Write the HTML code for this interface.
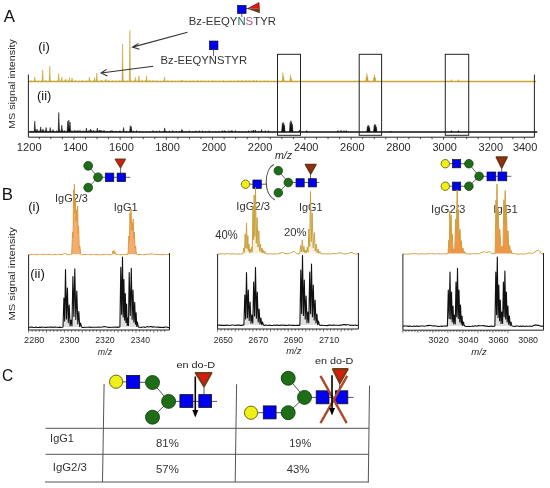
<!DOCTYPE html>
<html><head><meta charset="utf-8"><style>
html,body{margin:0;padding:0;background:#fff;}
svg{display:block;filter:blur(0.3px);font-family:"Liberation Sans",sans-serif;}
</style></head><body>
<svg width="550" height="488" viewBox="0 0 550 488">
<rect width="550" height="488" fill="#fff"/>
<g fill="#c9a032" stroke="#c9a032" stroke-width="0.5">
<path d="M34.2 81.5 L34.8 77 L35.4 81.5 M42.1 81.5 L42.7 69.8 L43.3 81.5 M49.2 81.5 L49.8 66.1 L50.4 81.5 M58.1 81.5 L58.7 73.6 L59.3 81.5 M61.2 81.5 L61.8 77 L62.4 81.5 M65.3 81.5 L65.9 79 L66.5 81.5 M68.7 81.5 L69.3 77.5 L69.9 81.5 M71.4 81.5 L72 78 L72.6 81.5 M88.8 81.5 L89.4 77 L90 81.5 M94 81.5 L94.6 77.5 L95.2 81.5 M96.2 81.5 L96.8 73 L97.4 81.5 M100.9 81.5 L101.5 80 L102.1 81.5 M105.3 81.5 L105.9 79.1 L106.5 81.5 M122 81.5 L122.6 43.9 L123.2 81.5 M129.3 81.5 L129.9 30.5 L130.5 81.5 M134.8 81.5 L135.4 77.4 L136 81.5 M138.3 81.5 L138.9 75.9 L139.5 81.5 M146 81.5 L146.6 75.9 L147.2 81.5 M163.9 81.5 L164.5 77.1 L165.1 81.5 M181.2 81.5 L181.8 80 L182.4 81.5 M253.3 81.5 L253.9 80.3 L254.5 81.5 M282.3 81.5 L282.9 72.6 L283.5 81.5 M283 81.5 L283.6 76.5 L284.2 81.5 M289.9 81.5 L290.5 75.1 L291.1 81.5 M290.6 81.5 L291.2 78 L291.8 81.5 M365.7 81.5 L366.3 77 L366.9 81.5 M366.3 81.5 L366.9 73.6 L367.5 81.5 M367 81.5 L367.6 76.5 L368.2 81.5 M373.3 81.5 L373.9 77.5 L374.5 81.5 M373.9 81.5 L374.5 74.4 L375.1 81.5 M374.6 81.5 L375.2 77.5 L375.8 81.5 M450.8 81.5 L451.4 79.6 L452 81.5 M457.8 81.5 L458.4 79.6 L459 81.5"/>
<path d="M30.4 81.5 L31 80.24 L31.6 81.5 M34.1 81.5 L34.7 80.05 L35.3 81.5 M37.8 81.5 L38.4 80.55 L39 81.5 M41.5 81.5 L42.1 80.29 L42.7 81.5 M45.2 81.5 L45.8 79.83 L46.4 81.5 M48.9 81.5 L49.5 79.82 L50.1 81.5 M52.6 81.5 L53.2 80.75 L53.8 81.5 M56.3 81.5 L56.9 80.65 L57.5 81.5 M60 81.5 L60.6 80.84 L61.2 81.5 M63.7 81.5 L64.3 80.37 L64.9 81.5 M67.4 81.5 L68 80.86 L68.6 81.5 M71.1 81.5 L71.7 80.35 L72.3 81.5 M74.8 81.5 L75.4 80.12 L76 81.5 M78.5 81.5 L79.1 80.57 L79.7 81.5 M82.2 81.5 L82.8 80.09 L83.4 81.5 M85.9 81.5 L86.5 80.19 L87.1 81.5 M89.6 81.5 L90.2 80.87 L90.8 81.5 M93.3 81.5 L93.9 80.23 L94.5 81.5 M97 81.5 L97.6 80.59 L98.2 81.5 M100.7 81.5 L101.3 80.4 L101.9 81.5 M104.4 81.5 L105 80.56 L105.6 81.5 M108.1 81.5 L108.7 80.07 L109.3 81.5 M111.8 81.5 L112.4 80.37 L113 81.5 M115.5 81.5 L116.1 80.71 L116.7 81.5 M119.2 81.5 L119.8 80.25 L120.4 81.5 M122.9 81.5 L123.5 79.96 L124.1 81.5 M126.6 81.5 L127.2 80.53 L127.8 81.5 M130.3 81.5 L130.9 80.63 L131.5 81.5 M134 81.5 L134.6 80.43 L135.2 81.5 M137.7 81.5 L138.3 79.78 L138.9 81.5 M141.4 81.5 L142 79.73 L142.6 81.5 M145.1 81.5 L145.7 80.09 L146.3 81.5 M148.8 81.5 L149.4 79.82 L150 81.5 M152.5 81.5 L153.1 79.89 L153.7 81.5 M156.2 81.5 L156.8 80.45 L157.4 81.5 M159.9 81.5 L160.5 80.79 L161.1 81.5 M163.6 81.5 L164.2 80.12 L164.8 81.5 M167.3 81.5 L167.9 80.23 L168.5 81.5 M171 81.5 L171.6 80.47 L172.2 81.5 M174.7 81.5 L175.3 80.63 L175.9 81.5 M178.4 81.5 L179 80.41 L179.6 81.5 M182.1 81.5 L182.7 80.34 L183.3 81.5 M185.8 81.5 L186.4 80.58 L187 81.5 M189.5 81.5 L190.1 80.55 L190.7 81.5 M193.2 81.5 L193.8 80.35 L194.4 81.5 M196.9 81.5 L197.5 79.87 L198.1 81.5 M200.6 81.5 L201.2 80.2 L201.8 81.5 M204.3 81.5 L204.9 80.56 L205.5 81.5 M208 81.5 L208.6 80.57 L209.2 81.5 M211.7 81.5 L212.3 80.35 L212.9 81.5 M215.4 81.5 L216 80.65 L216.6 81.5 M219.1 81.5 L219.7 80.66 L220.3 81.5 M222.8 81.5 L223.4 80.28 L224 81.5 M226.5 81.5 L227.1 80.8 L227.7 81.5 M230.2 81.5 L230.8 80.32 L231.4 81.5 M233.9 81.5 L234.5 80.47 L235.1 81.5 M237.6 81.5 L238.2 80.05 L238.8 81.5 M241.3 81.5 L241.9 80 L242.5 81.5 M245 81.5 L245.6 80.07 L246.2 81.5 M248.7 81.5 L249.3 80.07 L249.9 81.5 M252.4 81.5 L253 80.45 L253.6 81.5 M256.1 81.5 L256.7 80.1 L257.3 81.5 M259.8 81.5 L260.4 80.49 L261 81.5 M263.5 81.5 L264.1 80.21 L264.7 81.5 M267.2 81.5 L267.8 80.51 L268.4 81.5" stroke-width="0.3"/>
</g>
<line x1="28.4" y1="81.5" x2="536" y2="81.5" stroke="#c9a535" stroke-width="1.4"/>
<g fill="#111" stroke="#111" stroke-width="0.5">
<path d="M34.1 132 L34.8 121.1 L35.5 132 M36.3 132 L37 129 L37.7 132 M40 132 L40.7 126.8 L41.4 132 M42.3 132 L43 129 L43.7 132 M45.4 132 L46.1 127.5 L46.8 132 M49.5 132 L50.2 127.5 L50.9 132 M52.3 132 L53 129.5 L53.7 132 M58.1 132 L58.8 112.5 L59.5 132 M61.1 132 L61.8 125.2 L62.5 132 M67.1 132 L67.8 121 L68.5 132 M68.2 132 L68.9 120 L69.6 132 M69.3 132 L70 122 L70.7 132 M85.7 132 L86.4 128 L87.1 132 M89.8 132 L90.5 129 L91.2 132 M96.6 132 L97.3 128 L98 132 M99.3 132 L100 130 L100.7 132 M103.3 132 L104 130.5 L104.7 132 M122.9 132 L123.6 127.5 L124.3 132 M129.6 132 L130.3 125.6 L131 132 M130.5 132 L131.2 126.5 L131.9 132 M164 132 L164.7 127.9 L165.4 132 M181.1 132 L181.8 129.4 L182.5 132 M223.7 132 L224.4 130.5 L225.1 132 M230.6 132 L231.3 130.5 L232 132 M252.8 132 L253.5 130 L254.2 132 M254.8 132 L255.5 130 L256.2 132 M260.8 132 L261.5 129.5 L262.2 132 M281.6 132 L282.3 123.5 L283 132 M282.3 132 L283 122.2 L283.7 132 M283.1 132 L283.8 123.2 L284.5 132 M283.7 132 L284.4 125 L285.1 132 M289.4 132 L290.1 122.5 L290.8 132 M290.1 132 L290.8 120.7 L291.5 132 M290.9 132 L291.6 121.8 L292.3 132 M291.6 132 L292.3 124 L293 132 M298.8 132 L299.5 130 L300.2 132 M306 132 L306.7 130.5 L307.4 132 M337.3 132 L338 130.5 L338.7 132 M340.3 132 L341 130.2 L341.7 132 M343.3 132 L344 130.5 L344.7 132 M345.6 132 L346.3 130.5 L347 132 M366.7 132 L367.4 126.5 L368.1 132 M367.4 132 L368.1 125 L368.8 132 M368.2 132 L368.9 125.8 L369.6 132 M368.8 132 L369.5 127.5 L370.2 132 M373.5 132 L374.2 125.5 L374.9 132 M374.2 132 L374.9 124.2 L375.6 132 M375 132 L375.7 124.8 L376.4 132 M375.6 132 L376.3 127 L377 132 M390.3 132 L391 131 L391.7 132 M450.7 132 L451.4 130.6 L452.1 132 M457.7 132 L458.4 130.6 L459.1 132"/>
<path d="M30.4 132 L31 130.69 L31.6 132 M32 132 L32.6 131.3 L33.2 132 M33.6 132 L34.2 131.01 L34.8 132 M35.2 132 L35.8 129.85 L36.4 132 M36.8 132 L37.4 131.03 L38 132 M38.4 132 L39 130.29 L39.6 132 M40 132 L40.6 130.36 L41.2 132 M41.6 132 L42.2 130.24 L42.8 132 M43.2 132 L43.8 130.64 L44.4 132 M44.8 132 L45.4 130.45 L46 132 M46.4 132 L47 131.29 L47.6 132 M48 132 L48.6 131.28 L49.2 132 M49.6 132 L50.2 131.08 L50.8 132 M51.2 132 L51.8 131.16 L52.4 132 M52.8 132 L53.4 131.24 L54 132 M54.4 132 L55 131.19 L55.6 132 M56 132 L56.6 130.51 L57.2 132 M57.6 132 L58.2 131.1 L58.8 132 M59.2 132 L59.8 129.88 L60.4 132 M60.8 132 L61.4 130.31 L62 132 M62.4 132 L63 130.53 L63.6 132 M64 132 L64.6 130.27 L65.2 132 M65.6 132 L66.2 130.98 L66.8 132 M67.2 132 L67.8 129.92 L68.4 132 M68.8 132 L69.4 130.06 L70 132 M70.4 132 L71 130.24 L71.6 132 M72 132 L72.6 130.63 L73.2 132 M73.6 132 L74.2 130.05 L74.8 132 M75.2 132 L75.8 130.21 L76.4 132 M76.8 132 L77.4 130.34 L78 132 M78.4 132 L79 129.94 L79.6 132 M80 132 L80.6 130.39 L81.2 132 M81.6 132 L82.2 130.81 L82.8 132 M83.2 132 L83.8 130.52 L84.4 132 M84.8 132 L85.4 131.09 L86 132 M86.4 132 L87 131.09 L87.6 132 M88 132 L88.6 130.24 L89.2 132 M89.6 132 L90.2 130.14 L90.8 132 M91.2 132 L91.8 129.84 L92.4 132 M92.8 132 L93.4 130.04 L94 132 M94.4 132 L95 130.53 L95.6 132 M96 132 L96.6 131.26 L97.2 132 M97.6 132 L98.2 130.62 L98.8 132 M99.2 132 L99.8 129.92 L100.4 132 M100.8 132 L101.4 130.14 L102 132 M102.4 132 L103 130.62 L103.6 132 M104 132 L104.6 130.67 L105.2 132 M105.6 132 L106.2 131.05 L106.8 132 M107.2 132 L107.8 131.12 L108.4 132 M108.8 132 L109.4 131.28 L110 132 M110.4 132 L111 129.97 L111.6 132 M112 132 L112.6 130.38 L113.2 132 M113.6 132 L114.2 131.17 L114.8 132 M115.2 132 L115.8 130.74 L116.4 132 M116.8 132 L117.4 131.32 L118 132 M118.4 132 L119 131.07 L119.6 132 M119.4 132 L120 130.52 L120.6 132 M122.7 132 L123.3 130.62 L123.9 132 M126 132 L126.6 130.83 L127.2 132 M129.3 132 L129.9 131.07 L130.5 132 M132.6 132 L133.2 130.62 L133.8 132 M135.9 132 L136.5 130.25 L137.1 132 M139.2 132 L139.8 130.88 L140.4 132 M142.5 132 L143.1 131.32 L143.7 132 M145.8 132 L146.4 131.33 L147 132 M149.1 132 L149.7 131.3 L150.3 132 M152.4 132 L153 130.25 L153.6 132 M155.7 132 L156.3 130.75 L156.9 132 M159 132 L159.6 130.4 L160.2 132 M162.3 132 L162.9 131.2 L163.5 132 M165.6 132 L166.2 131.09 L166.8 132 M168.9 132 L169.5 130.57 L170.1 132 M172.2 132 L172.8 130.33 L173.4 132 M175.5 132 L176.1 130.99 L176.7 132 M178.8 132 L179.4 131.32 L180 132 M182.1 132 L182.7 130.36 L183.3 132 M185.4 132 L186 131.05 L186.6 132 M188.7 132 L189.3 130.51 L189.9 132 M192 132 L192.6 131.21 L193.2 132 M195.3 132 L195.9 130.57 L196.5 132 M198.6 132 L199.2 130.39 L199.8 132 M201.9 132 L202.5 130.53 L203.1 132 M205.2 132 L205.8 130.97 L206.4 132 M208.5 132 L209.1 130.53 L209.7 132 M211.8 132 L212.4 131.23 L213 132 M215.1 132 L215.7 131.02 L216.3 132 M218.4 132 L219 130.9 L219.6 132 M221.7 132 L222.3 130.35 L222.9 132 M225 132 L225.6 131.22 L226.2 132 M228.3 132 L228.9 130.34 L229.5 132 M231.6 132 L232.2 130.44 L232.8 132 M234.9 132 L235.5 130.23 L236.1 132 M238.2 132 L238.8 130.96 L239.4 132 M241.5 132 L242.1 131.15 L242.7 132 M244.8 132 L245.4 131.11 L246 132 M248.1 132 L248.7 130.41 L249.3 132 M251.4 132 L252 130.24 L252.6 132 M254.7 132 L255.3 130.56 L255.9 132 M258 132 L258.6 130.82 L259.2 132 M261.3 132 L261.9 131.06 L262.5 132 M264.6 132 L265.2 130.4 L265.8 132 M267.9 132 L268.5 130.35 L269.1 132" stroke-width="0.3"/>
</g>
<line x1="28.4" y1="132" x2="537.3" y2="132" stroke="#111" stroke-width="1.3"/>
<g stroke="#222" stroke-width="1" fill="none">
<path d="M28.4 74.6 V137.2 H534.4 V74.6"/>
<path d="M39.3 137.2 v2 M50.85 137.2 v2 M62.4 137.2 v2 M73.95 137.2 v2.6 M85.5 137.2 v2 M97.05 137.2 v2 M108.6 137.2 v2 M120.15 137.2 v2.6 M131.7 137.2 v2 M143.25 137.2 v2 M154.8 137.2 v2 M166.35 137.2 v2.6 M177.9 137.2 v2 M189.45 137.2 v2 M201 137.2 v2 M212.55 137.2 v2.6 M224.1 137.2 v2 M235.65 137.2 v2 M247.2 137.2 v2 M258.75 137.2 v2.6 M270.3 137.2 v2 M281.85 137.2 v2 M293.4 137.2 v2 M304.95 137.2 v2.6 M316.5 137.2 v2 M328.05 137.2 v2 M339.6 137.2 v2 M351.15 137.2 v2.6 M362.7 137.2 v2 M374.25 137.2 v2 M385.8 137.2 v2 M397.35 137.2 v2.6 M408.9 137.2 v2 M420.45 137.2 v2 M432 137.2 v2 M443.55 137.2 v2.6 M455.1 137.2 v2 M466.65 137.2 v2 M478.2 137.2 v2 M489.75 137.2 v2.6 M501.3 137.2 v2 M512.85 137.2 v2 M524.4 137.2 v2" stroke-width="0.8"/>
<rect x="277.5" y="54.3" width="23" height="81"/>
<rect x="359.2" y="54.3" width="22.4" height="81"/>
<rect x="445.3" y="54.3" width="23.4" height="81"/>
</g>
<text x="16.81" y="151" font-size="11.14" textLength="24.78" lengthAdjust="spacingAndGlyphs" fill="#2a2a2a">1200</text>
<text x="62.95" y="151" font-size="11.14" textLength="24.78" lengthAdjust="spacingAndGlyphs" fill="#2a2a2a">1400</text>
<text x="109.09" y="151" font-size="11.14" textLength="24.78" lengthAdjust="spacingAndGlyphs" fill="#2a2a2a">1600</text>
<text x="155.23" y="151" font-size="11.14" textLength="24.78" lengthAdjust="spacingAndGlyphs" fill="#2a2a2a">1800</text>
<text x="201.66" y="151" font-size="11.14" textLength="24.49" lengthAdjust="spacingAndGlyphs" fill="#2a2a2a">2000</text>
<text x="247.8" y="151" font-size="11.14" textLength="24.49" lengthAdjust="spacingAndGlyphs" fill="#2a2a2a">2200</text>
<text x="293.94" y="151" font-size="11.14" textLength="24.49" lengthAdjust="spacingAndGlyphs" fill="#2a2a2a">2400</text>
<text x="340.08" y="151" font-size="11.14" textLength="24.49" lengthAdjust="spacingAndGlyphs" fill="#2a2a2a">2600</text>
<text x="386.22" y="151" font-size="11.14" textLength="24.49" lengthAdjust="spacingAndGlyphs" fill="#2a2a2a">2800</text>
<text x="432.47" y="151" font-size="11.14" textLength="24.37" lengthAdjust="spacingAndGlyphs" fill="#2a2a2a">3000</text>
<text x="478.61" y="151" font-size="11.14" textLength="24.37" lengthAdjust="spacingAndGlyphs" fill="#2a2a2a">3200</text>
<text x="512.91" y="151" font-size="11.14" textLength="24.37" lengthAdjust="spacingAndGlyphs" fill="#2a2a2a">3400</text>
<text x="274.94" y="159.4" font-size="10.34" textLength="17.13" lengthAdjust="spacingAndGlyphs" fill="#2a2a2a" font-style="italic">m/z</text>
<text x="3.82" y="21.8" font-size="17.1" textLength="11.22" lengthAdjust="spacingAndGlyphs" fill="#111">A</text>
<text x="38.32" y="51.14" font-size="13.16" textLength="11.5" lengthAdjust="spacingAndGlyphs" fill="#111">(i)</text>
<text x="37.03" y="99.51" font-size="13.26" textLength="14.32" lengthAdjust="spacingAndGlyphs" fill="#111">(ii)</text>
<text transform="translate(15.15,128.96) rotate(-90)" x="0" y="0" font-size="8.34" textLength="89.94" lengthAdjust="spacingAndGlyphs" fill="#2a2a2a">MS signal intensity</text>
<g stroke="#333" stroke-width="1.1" fill="none">
<path d="M187.5 32.3 L132.5 47.1 M138.6 43.4 L132.5 47.1 L139.4 49.2"/>
<path d="M153.2 66.3 L101.1 73 M106.6 69.4 L101.1 73 L107.4 75.9"/>
</g>
<text x="188.79" y="24.6" font-size="10.71" textLength="87.16" lengthAdjust="spacingAndGlyphs" fill="#333">Bz-EEQY<tspan fill="#1a6a5a">N</tspan><tspan fill="#c0507a">S</tspan>TYR</text>
<text x="160.5" y="63.9" font-size="10.57" textLength="86.55" lengthAdjust="spacingAndGlyphs" fill="#333">Bz-EEQYNSTYR</text>
<line x1="241.8" y1="13.5" x2="241.8" y2="17" stroke="#333" stroke-width="0.8"/>
<line x1="246" y1="8.6" x2="249" y2="8.6" stroke="#333" stroke-width="0.8"/>
<rect x="237.4" y="5.3" width="8.7" height="8.3" fill="#0000f0" stroke="#111" stroke-width="0.6"/>
<path d="M247.7 8.6 L259 2.5 L259.4 8.2 Z" fill="#ee1111"/>
<path d="M247.7 8.6 L259.4 8.2 L259.5 12.7 Z" fill="#7a3a12"/>
<path d="M247.7 8.6 L259 2.5 L259.5 12.7 Z" fill="none" stroke="#3a1a08" stroke-width="0.6"/>
<line x1="213.6" y1="49.8" x2="213.6" y2="56" stroke="#333" stroke-width="0.8"/>
<rect x="209.3" y="41" width="8.7" height="8.7" fill="#0000f0" stroke="#111" stroke-width="0.6"/>
<text x="1.85" y="199.5" font-size="17.39" textLength="11.22" lengthAdjust="spacingAndGlyphs" fill="#111">B</text>
<text transform="translate(14.75,320.6) rotate(-90)" x="0" y="0" font-size="8.34" textLength="93.38" lengthAdjust="spacingAndGlyphs" fill="#2a2a2a">MS signal intensity</text>
<line x1="88.2" y1="165.8" x2="98" y2="177.3" stroke="#555" stroke-width="0.9"/><line x1="88.2" y1="187.6" x2="98" y2="177.3" stroke="#555" stroke-width="0.9"/><line x1="98" y1="177.3" x2="130.2" y2="177.3" stroke="#555" stroke-width="0.9"/><line x1="120.6" y1="168" x2="120.6" y2="173.1" stroke="#555" stroke-width="0.9"/>
<circle cx="88.2" cy="165.8" r="4.4" fill="#1d6e16" stroke="#0e380a" stroke-width="0.7"/><circle cx="98" cy="177.3" r="4.4" fill="#1d6e16" stroke="#0e380a" stroke-width="0.7"/><circle cx="88.2" cy="187.6" r="4.4" fill="#1d6e16" stroke="#0e380a" stroke-width="0.7"/>
<rect x="105.3" y="173.1" width="8.5" height="8.5" fill="#0000f0" stroke="#111" stroke-width="0.7"/><rect x="117.1" y="173.1" width="8.5" height="8.5" fill="#0000f0" stroke="#111" stroke-width="0.7"/>
<path d="M115.4 159.3 L125.2 159.3 L120.5 167.6 Z" fill="#d81c10" stroke="#7a3a12" stroke-width="1.4" stroke-linejoin="round"/>
<text x="28.32" y="210.59" font-size="13.37" textLength="11.5" lengthAdjust="spacingAndGlyphs" fill="#111">(i)</text>
<text x="30.21" y="277.85" font-size="13.58" textLength="14.54" lengthAdjust="spacingAndGlyphs" fill="#111">(ii)</text>
<text x="55.01" y="202.4" font-size="10.6" textLength="32.9" lengthAdjust="spacingAndGlyphs" fill="#333">IgG2/3</text>
<text x="113.8" y="210.6" font-size="10.4" textLength="23.98" lengthAdjust="spacingAndGlyphs" fill="#333">IgG1</text>
<path d="M71.7 254.2 L72.6 232 L73.1 237.7 L73.6 190 L74 206.2 L74.4 184.3 L74.95 213.7 L75.5 200 L76.05 221.2 L76.6 210 L77.1 221.2 L77.6 206 L78.1 233.2 L78.6 226 L79.2 248.2 L79.8 246 L80.7 254.2 Z M128 254.2 L128.9 236 L129.45 240.7 L130 213 L130.5 223.45 L131 208.8 L131.55 230.2 L132.1 222 L132.7 230.2 L133.3 219 L133.85 237.7 L134.4 232 L134.95 248.2 L135.5 246 L136.4 254.2 Z M112.1 254.2 L113 251 L113.5 251.95 L114 250.5 L114.5 252.7 L115 252 L115.9 254.2 Z" fill="#f08a30" fill-opacity="0.7" stroke="none"/><path d="M28.6 254.75 L29.8 254.69 L31 254.38 L32.2 254.38 L33.4 254.64 L34.6 254.66 L35.8 254.58 L37 254.53 L38.2 254.75 L39.4 254.38 L40.6 254.53 L41.8 254.41 L43 254.68 L44.2 254.32 L45.4 254.42 L46.6 254.63 L47.8 254.33 L49 254.45 L50.2 254.38 L51.4 254.78 L52.6 254.77 L53.8 254.43 L55 254.65 L56.2 254.54 L57.4 254.72 L58.6 254.31 L59.8 254.54 L61 254.35 L62.2 254.54 L63.4 253.91 L64.6 253.78 L65.8 253.56 L67 254.24 L68.2 254.69 L69.4 254.75 L70.6 254.53 L71.7 254.2 L72.6 232 L73.1 237.7 L73.6 190 L74 206.2 L74.4 184.3 L74.95 213.7 L75.5 200 L76.05 221.2 L76.6 210 L77.1 221.2 L77.6 206 L78.1 233.2 L78.6 226 L79.2 248.2 L79.8 246 L80.7 254.2 L81.4 254.76 L82.6 254.71 L83.8 254.58 L85 254.55 L86.2 254.51 L87.4 254.49 L88.6 254.61 L89.8 254.49 L91 254.72 L92.2 254.66 L93.4 254.4 L94.6 254.72 L95.8 254.69 L97 254.68 L98.2 254.56 L99.4 254.8 L100.6 254.78 L101.8 254.57 L103 254.72 L104.2 254.46 L105.4 254.4 L106.6 254.51 L107.8 254.45 L109 254.6 L110.2 254.78 L111.4 254.58 L112.1 254.2 L113 251 L113.5 251.95 L114 250.5 L114.5 252.7 L115 252 L115.9 254.2 L117.4 254.61 L118.6 254.5 L119.8 254.73 L121 254.69 L122.2 254.39 L123.4 254.67 L124.6 254.59 L125.8 254.33 L127 254.66 L128 254.2 L128.9 236 L129.45 240.7 L130 213 L130.5 223.45 L131 208.8 L131.55 230.2 L132.1 222 L132.7 230.2 L133.3 219 L133.85 237.7 L134.4 232 L134.95 248.2 L135.5 246 L136.4 254.2 L137.8 254.73 L139 254.45 L140.2 254.51 L141.4 254.49 L142.6 254.76 L143.8 254.53 L145 254.67 L146.2 254.45 L147.4 254.1 L148.6 254.32 L149.8 254.15 L151 253.83 L152.2 253.93 L153.4 254.3 L154.6 254.28 L155.8 254.41 L157 254.53 L158.2 254.36 L159.4 254.71 L160.6 254.38 L161.8 254.78 L163 254.37 L164.2 254.46 L165.4 254.58 L166.6 254.46 L167.8 254.57 L169 254.41" fill="none" stroke="#dc9a3c" stroke-width="1.0" stroke-linejoin="round"/>
<path d="M63 327 L63.9 298 L64.7 321.09 L65.5 269.5 L66.45 318.89 L67.4 288 L68.3 322.63 L69.2 305 L70.1 325.93 L71 320 L71.95 325.93 L72.9 276.6 L73.85 316.38 L74.8 268.9 L75.8 319.55 L76.8 291 L77.8 324.06 L78.8 311.5 L79.7 326.59 L80.6 323 L81.5 327 Z M119.9 327 L120.8 267.4 L121.65 314.36 L122.5 257 L123.2 317.04 L123.9 279.6 L124.6 320.1 L125.3 293.5 L125.95 322.41 L126.6 304 L127.2 325.49 L127.8 318 L128.5 325.49 L129.2 272.6 L130.25 315.5 L131.3 268.3 L132.15 319.33 L133 290 L133.85 322.03 L134.7 302.3 L135.4 324.32 L136.1 312.7 L136.75 326.37 L137.4 322 L138.3 327 Z" fill="#000" fill-opacity="0.12" stroke="none"/><path d="M28.6 327.53 L29.8 327.3 L31 327.08 L32.2 327.04 L33.4 327.47 L34.6 327.45 L35.8 327.06 L37 327.39 L38.2 327.57 L39.4 327.17 L40.6 327.35 L41.8 327.16 L43 327.31 L44.2 327.3 L45.4 327.35 L46.6 327.43 L47.8 327.06 L49 327.2 L50.2 327.13 L51.4 327.06 L52.6 327.45 L53.8 327.05 L55 327.08 L56.2 327.3 L57.4 327.26 L58.6 327.53 L59.8 327.14 L61 327.5 L62.2 327.28 L63 327 L63.9 298 L64.7 321.09 L65.5 269.5 L66.45 318.89 L67.4 288 L68.3 322.63 L69.2 305 L70.1 325.93 L71 320 L71.95 325.93 L72.9 276.6 L73.85 316.38 L74.8 268.9 L75.8 319.55 L76.8 291 L77.8 324.06 L78.8 311.5 L79.7 326.59 L80.6 323 L81.5 327 L82.6 327.52 L83.8 327.56 L85 327.23 L86.2 327.31 L87.4 327.2 L88.6 327.13 L89.8 327.01 L91 327.55 L92.2 327.22 L93.4 327.25 L94.6 327.21 L95.8 327.27 L97 327.27 L98.2 327.08 L99.4 327.31 L100.6 327.21 L101.8 326.96 L103 327.06 L104.2 326.6 L105.4 326.75 L106.6 326.94 L107.8 327.3 L109 327.37 L110.2 327.44 L111.4 327.29 L112.6 327.26 L113.8 327.11 L115 327.31 L116.2 327.07 L117.4 327.36 L118.6 327.15 L119.9 327 L120.8 267.4 L121.65 314.36 L122.5 257 L123.2 317.04 L123.9 279.6 L124.6 320.1 L125.3 293.5 L125.95 322.41 L126.6 304 L127.2 325.49 L127.8 318 L128.5 325.49 L129.2 272.6 L130.25 315.5 L131.3 268.3 L132.15 319.33 L133 290 L133.85 322.03 L134.7 302.3 L135.4 324.32 L136.1 312.7 L136.75 326.37 L137.4 322 L138.3 327 L139 327.27 L140.2 327.22 L141.4 327.43 L142.6 327.01 L143.8 327.07 L145 327.36 L146.2 327.01 L147.4 326.59 L148.6 327.03 L149.8 326.82 L151 326.59 L152.2 327.12 L153.4 326.84 L154.6 327.07 L155.8 327.07 L157 327.23 L158.2 327.02 L159.4 327.39 L160.6 327.25 L161.8 327.57 L163 327.27 L164.2 327.35 L165.4 327.01 L166.6 327.03 L167.8 327.52 L169 327.58" fill="none" stroke="#111" stroke-width="1.1" stroke-linejoin="round"/>
<path d="M28.6 254.6 V330 H169.5 V253" fill="none" stroke="#222" stroke-width="1"/>
<path d="M28.6 330 v2.6 M32.18 330 v1.8 M35.76 330 v1.8 M39.34 330 v1.8 M42.92 330 v1.8 M46.5 330 v2.6 M50.08 330 v1.8 M53.66 330 v1.8 M57.24 330 v1.8 M60.82 330 v1.8 M64.4 330 v2.6 M67.98 330 v1.8 M71.56 330 v1.8 M75.14 330 v1.8 M78.72 330 v1.8 M82.3 330 v2.6 M85.88 330 v1.8 M89.46 330 v1.8 M93.04 330 v1.8 M96.62 330 v1.8 M100.2 330 v2.6 M103.78 330 v1.8 M107.36 330 v1.8 M110.94 330 v1.8 M114.52 330 v1.8 M118.1 330 v2.6 M121.68 330 v1.8 M125.26 330 v1.8 M128.84 330 v1.8 M132.42 330 v1.8 M136 330 v2.6 M139.58 330 v1.8 M143.16 330 v1.8 M146.74 330 v1.8 M150.32 330 v1.8 M153.9 330 v2.6 M157.48 330 v1.8 M161.06 330 v1.8 M164.64 330 v1.8" stroke="#333" stroke-width="0.7" fill="none"/>
<text x="24.14" y="343.1" font-size="8.57" textLength="20.32" lengthAdjust="spacingAndGlyphs" fill="#2a2a2a">2280</text>
<text x="59.55" y="343.1" font-size="8.57" textLength="20.11" lengthAdjust="spacingAndGlyphs" fill="#2a2a2a">2300</text>
<text x="95.26" y="343.1" font-size="8.57" textLength="19.49" lengthAdjust="spacingAndGlyphs" fill="#2a2a2a">2320</text>
<text x="130.87" y="343.1" font-size="8.57" textLength="19.07" lengthAdjust="spacingAndGlyphs" fill="#2a2a2a">2340</text>
<text x="97.87" y="355.3" font-size="8.8" textLength="14.17" lengthAdjust="spacingAndGlyphs" fill="#2a2a2a" font-style="italic">m/z</text>
<line x1="245.5" y1="184.2" x2="266.6" y2="184.2" stroke="#555" stroke-width="0.9"/>
<path d="M273.8 164.5 C264 170 263 193 274.8 200" fill="none" stroke="#555" stroke-width="1.1"/>
<line x1="278.3" y1="170.7" x2="288.3" y2="182.5" stroke="#555" stroke-width="0.9"/><line x1="278.3" y1="192.8" x2="288.3" y2="182.5" stroke="#555" stroke-width="0.9"/><line x1="288.3" y1="182.5" x2="319.3" y2="182.5" stroke="#555" stroke-width="0.9"/><line x1="310.5" y1="173" x2="310.5" y2="178.9" stroke="#555" stroke-width="0.9"/>
<circle cx="245.5" cy="184.2" r="4.2" fill="#f0f018" stroke="#6a6a14" stroke-width="0.9"/><rect x="252.9" y="180" width="8.4" height="8.4" fill="#0000f0" stroke="#111" stroke-width="0.7"/>
<circle cx="278.3" cy="170.7" r="4.3" fill="#1d6e16" stroke="#0e380a" stroke-width="0.7"/><circle cx="288.3" cy="182.5" r="4.3" fill="#1d6e16" stroke="#0e380a" stroke-width="0.7"/><circle cx="278.3" cy="192.8" r="4.3" fill="#1d6e16" stroke="#0e380a" stroke-width="0.7"/>
<rect x="296" y="178.7" width="8.2" height="8.2" fill="#0000f0" stroke="#111" stroke-width="0.7"/><rect x="308.3" y="178.7" width="8.2" height="8.2" fill="#0000f0" stroke="#111" stroke-width="0.7"/>
<path d="M305.6 164.6 L315.8 164.6 L310.7 173.6 Z" fill="#983010" stroke="#6a3412" stroke-width="1.8" stroke-linejoin="round"/>
<text x="236.39" y="209.7" font-size="10.8" textLength="33.74" lengthAdjust="spacingAndGlyphs" fill="#333">IgG2/3</text>
<text x="298.92" y="211" font-size="10.4" textLength="23.55" lengthAdjust="spacingAndGlyphs" fill="#333">IgG1</text>
<text x="215.22" y="239.4" font-size="12.29" textLength="22.39" lengthAdjust="spacingAndGlyphs" fill="#333">40%</text>
<text x="283.94" y="236.1" font-size="11" textLength="22.58" lengthAdjust="spacingAndGlyphs" fill="#333">20%</text>
<path d="M242.9 253.6 L243.8 248 L244.5 252.34 L245.2 234 L245.85 248.14 L246.5 223 L247.15 248.65 L247.8 235.7 L248.35 251.14 L248.9 244 L249.55 252.64 L250.2 249 L250.85 252.64 L251.5 247 L252.25 252.04 L253 206 L253.6 239.74 L254.2 195 L254.85 236.44 L255.5 187.5 L256.3 243.25 L257.1 217.7 L257.95 247.18 L258.8 230.8 L259.6 251.14 L260.4 244 L261.2 252.34 L262 248 L262.75 252.94 L263.5 250 L264.25 253.39 L265 251.5 L265.9 253.6 Z M299.8 253.6 L300.7 245.6 L301.5 251.62 L302.3 239.8 L303.1 251.86 L303.9 246.4 L304.75 252.94 L305.6 250 L306.45 252.94 L307.3 247 L308.1 252.04 L308.9 229 L309.7 246.64 L310.5 191.5 L311.3 241.78 L312.1 212.8 L313.2 247.69 L314.3 232.5 L315.25 251.14 L316.2 244 L317.1 252.64 L318 249 L318.9 253.39 L319.8 251.5 L320.7 253.6 Z" fill="#d9a94a" fill-opacity="0.15" stroke="none"/><path d="M217.6 254.13 L218.8 254.08 L220 253.76 L221.2 253.87 L222.4 253.88 L223.6 253.92 L224.8 254.2 L226 253.96 L227.2 253.6 L228.4 253.71 L229.6 253.86 L230.8 254.08 L232 253.65 L233.2 253.95 L234.4 253.83 L235.6 254.08 L236.8 254 L238 253.99 L239.2 253.96 L240.4 254.19 L241.6 253.8 L242.9 253.6 L243.8 248 L244.5 252.34 L245.2 234 L245.85 248.14 L246.5 223 L247.15 248.65 L247.8 235.7 L248.35 251.14 L248.9 244 L249.55 252.64 L250.2 249 L250.85 252.64 L251.5 247 L252.25 252.04 L253 206 L253.6 239.74 L254.2 195 L254.85 236.44 L255.5 187.5 L256.3 243.25 L257.1 217.7 L257.95 247.18 L258.8 230.8 L259.6 251.14 L260.4 244 L261.2 252.34 L262 248 L262.75 252.94 L263.5 250 L264.25 253.39 L265 251.5 L265.9 253.6 L266.8 254.1 L268 253.84 L269.2 253.83 L270.4 253.78 L271.6 254.02 L272.8 254.02 L274 253.75 L275.2 253.96 L276.4 254.08 L277.6 253.55 L278.8 253.86 L280 252.94 L281.2 252.92 L282.4 252.79 L283.6 252.74 L284.8 253.49 L286 253.61 L287.2 253.9 L288.4 253.58 L289.6 253.47 L290.8 252.96 L292 252.22 L293.2 251.49 L294.4 251.83 L295.6 252.92 L296.8 253.5 L298 253.99 L299.2 253.89 L299.8 253.6 L300.7 245.6 L301.5 251.62 L302.3 239.8 L303.1 251.86 L303.9 246.4 L304.75 252.94 L305.6 250 L306.45 252.94 L307.3 247 L308.1 252.04 L308.9 229 L309.7 246.64 L310.5 191.5 L311.3 241.78 L312.1 212.8 L313.2 247.69 L314.3 232.5 L315.25 251.14 L316.2 244 L317.1 252.64 L318 249 L318.9 253.39 L319.8 251.5 L320.7 253.6 L322 253.88 L323.2 253.8 L324.4 253.75 L325.6 253.76 L326.8 253.95 L328 253.93 L329.2 253.68 L330.4 253.98 L331.6 253.75 L332.8 253.59 L334 253.59 L335.2 253.71 L336.4 253.66 L337.6 253.2 L338.8 252.9 L340 252.88 L341.2 253.1 L342.4 253.3 L343.6 253.8 L344.8 253.87 L346 254.05 L347.2 253.71 L348.4 253.22 L349.6 252.94 L350.8 252.4 L352 252.31 L353.2 253.37 L354.4 253.76 L355.6 254.15 L356.8 254.09 L358 253.78" fill="none" stroke="#c9a23e" stroke-width="1.0" stroke-linejoin="round"/>
<path d="M243.9 325 L244.8 295 L245.65 318.87 L246.5 272.5 L247.4 317.77 L248.3 290 L249.2 320.41 L250.1 302 L251 323.27 L251.9 315 L252.8 323.27 L253.7 282 L254.6 316.01 L255.5 267.6 L256.4 318.21 L257.3 292 L258.2 321.95 L259.1 309 L260 323.93 L260.9 318 L261.7 324.81 L262.5 322 L263.4 325 Z M299.9 325 L300.8 270 L301.65 313.37 L302.5 255.6 L303.4 315.57 L304.3 280 L305.2 319.09 L306.1 296 L307 322.61 L307.9 312 L308.8 322.61 L309.7 272 L310.6 313.81 L311.5 264 L312.4 316.67 L313.3 285 L314.2 319.97 L315.1 300 L316 323.05 L316.9 314 L317.7 324.59 L318.5 321 L319.4 325 Z" fill="#000" fill-opacity="0.12" stroke="none"/><path d="M217.6 325.24 L218.8 325.09 L220 325.02 L221.2 325.38 L222.4 325.23 L223.6 325.33 L224.8 325.3 L226 325.37 L227.2 325.01 L228.4 325.23 L229.6 325.51 L230.8 325.18 L232 325.02 L233.2 325.06 L234.4 325.27 L235.6 325.59 L236.8 325.12 L238 325.04 L239.2 325.16 L240.4 325.34 L241.6 325.37 L242.8 325.15 L243.9 325 L244.8 295 L245.65 318.87 L246.5 272.5 L247.4 317.77 L248.3 290 L249.2 320.41 L250.1 302 L251 323.27 L251.9 315 L252.8 323.27 L253.7 282 L254.6 316.01 L255.5 267.6 L256.4 318.21 L257.3 292 L258.2 321.95 L259.1 309 L260 323.93 L260.9 318 L261.7 324.81 L262.5 322 L263.4 325 L264.4 325.54 L265.6 325.13 L266.8 325.3 L268 325.56 L269.2 325.11 L270.4 325.36 L271.6 325.54 L272.8 325.5 L274 325.08 L275.2 325.5 L276.4 325.13 L277.6 325.12 L278.8 325.55 L280 325.34 L281.2 325.13 L282.4 325.31 L283.6 325.08 L284.8 325.37 L286 325.22 L287.2 325.47 L288.4 325.09 L289.6 325.1 L290.8 325.26 L292 325.41 L293.2 325.39 L294.4 325.24 L295.6 325.52 L296.8 325.29 L298 325.42 L299.2 325.4 L299.9 325 L300.8 270 L301.65 313.37 L302.5 255.6 L303.4 315.57 L304.3 280 L305.2 319.09 L306.1 296 L307 322.61 L307.9 312 L308.8 322.61 L309.7 272 L310.6 313.81 L311.5 264 L312.4 316.67 L313.3 285 L314.2 319.97 L315.1 300 L316 323.05 L316.9 314 L317.7 324.59 L318.5 321 L319.4 325 L320.8 325.41 L322 325.1 L323.2 325.49 L324.4 325.46 L325.6 325.5 L326.8 325.59 L328 325.34 L329.2 325.09 L330.4 325.06 L331.6 325.31 L332.8 325.35 L334 325.08 L335.2 325.28 L336.4 325.26 L337.6 325.18 L338.8 325.48 L340 324.95 L341.2 325.27 L342.4 324.87 L343.6 324.51 L344.8 324.67 L346 324.83 L347.2 324.71 L348.4 324.74 L349.6 325.05 L350.8 325.47 L352 325.03 L353.2 325.57 L354.4 325.19 L355.6 325.06 L356.8 325.51 L358 325.28" fill="none" stroke="#111" stroke-width="1.1" stroke-linejoin="round"/>
<path d="M217.6 254 V329 H358.4 V253" fill="none" stroke="#222" stroke-width="1"/>
<path d="M217.6 329 v2.6 M221.13 329 v1.8 M224.66 329 v1.8 M228.19 329 v1.8 M231.72 329 v1.8 M235.25 329 v2.6 M238.78 329 v1.8 M242.31 329 v1.8 M245.84 329 v1.8 M249.37 329 v1.8 M252.9 329 v2.6 M256.43 329 v1.8 M259.96 329 v1.8 M263.49 329 v1.8 M267.02 329 v1.8 M270.55 329 v2.6 M274.08 329 v1.8 M277.61 329 v1.8 M281.14 329 v1.8 M284.67 329 v1.8 M288.2 329 v2.6 M291.73 329 v1.8 M295.26 329 v1.8 M298.79 329 v1.8 M302.32 329 v1.8 M305.85 329 v2.6 M309.38 329 v1.8 M312.91 329 v1.8 M316.44 329 v1.8 M319.97 329 v1.8 M323.5 329 v2.6 M327.03 329 v1.8 M330.56 329 v1.8 M334.09 329 v1.8 M337.62 329 v1.8 M341.15 329 v2.6 M344.68 329 v1.8 M348.21 329 v1.8 M351.74 329 v1.8" stroke="#333" stroke-width="0.7" fill="none"/>
<text x="213.67" y="342.5" font-size="8.29" textLength="19.07" lengthAdjust="spacingAndGlyphs" fill="#2a2a2a">2650</text>
<text x="248.35" y="342.5" font-size="8.29" textLength="20.01" lengthAdjust="spacingAndGlyphs" fill="#2a2a2a">2670</text>
<text x="283.66" y="342.5" font-size="8.29" textLength="19.59" lengthAdjust="spacingAndGlyphs" fill="#2a2a2a">2690</text>
<text x="319.05" y="342.5" font-size="8.29" textLength="20.21" lengthAdjust="spacingAndGlyphs" fill="#2a2a2a">2710</text>
<text x="286.26" y="353.9" font-size="8.8" textLength="15.19" lengthAdjust="spacingAndGlyphs" fill="#2a2a2a" font-style="italic">m/z</text>
<line x1="445.3" y1="163.7" x2="468.9" y2="163.7" stroke="#555" stroke-width="0.9"/><line x1="445.3" y1="186.2" x2="468.9" y2="186.2" stroke="#555" stroke-width="0.9"/><line x1="468.9" y1="163.7" x2="479.1" y2="176.3" stroke="#555" stroke-width="0.9"/><line x1="468.9" y1="186.2" x2="479.1" y2="176.3" stroke="#555" stroke-width="0.9"/><line x1="479.1" y1="176.3" x2="511.4" y2="176.3" stroke="#555" stroke-width="0.9"/><line x1="501.7" y1="167" x2="501.7" y2="171.8" stroke="#555" stroke-width="0.9"/>
<circle cx="445.3" cy="163.7" r="4.2" fill="#f0f018" stroke="#6a6a14" stroke-width="0.9"/><rect x="452.5" y="159.6" width="8.2" height="8.2" fill="#0000f0" stroke="#111" stroke-width="0.7"/><circle cx="468.9" cy="163.7" r="4.3" fill="#1d6e16" stroke="#0e380a" stroke-width="0.7"/>
<circle cx="445.3" cy="186.2" r="4.2" fill="#f0f018" stroke="#6a6a14" stroke-width="0.9"/><rect x="452.5" y="182.1" width="8.2" height="8.2" fill="#0000f0" stroke="#111" stroke-width="0.7"/><circle cx="468.9" cy="186.2" r="4.3" fill="#1d6e16" stroke="#0e380a" stroke-width="0.7"/>
<circle cx="479.1" cy="176.3" r="4.3" fill="#1d6e16" stroke="#0e380a" stroke-width="0.7"/>
<rect x="487" y="172" width="8.8" height="8.8" fill="#0000f0" stroke="#111" stroke-width="0.7"/><rect x="498" y="172" width="8.8" height="8.8" fill="#0000f0" stroke="#111" stroke-width="0.7"/>
<path d="M496.4 157.2 L507 157.2 L501.7 167.5 Z" fill="#983010" stroke="#6a3412" stroke-width="1.8" stroke-linejoin="round"/>
<text x="431.08" y="213.2" font-size="10.9" textLength="34.16" lengthAdjust="spacingAndGlyphs" fill="#333">IgG2/3</text>
<text x="493.28" y="212.9" font-size="10.7" textLength="24.62" lengthAdjust="spacingAndGlyphs" fill="#333">IgG1</text>
<path d="M448 253.6 L448.9 240 L449.35 245.68 L449.8 211 L450.45 230.68 L451.1 215 L451.7 242.08 L452.3 234 L453.1 251.02 L453.9 248.9 L454.75 251.02 L455.6 219 L456.4 233.08 L457.2 189.8 L457.8 227.38 L458.4 209.5 L459.2 239.2 L460 229.2 L460.65 246.1 L461.3 240.7 L462.1 250.48 L462.9 248 L463.75 252.58 L464.6 251.5 L465.5 253.6 Z M495.1 253.6 L496 200 L496.5 221.68 L497 184.1 L497.6 227.38 L498.2 209.5 L499 239.2 L499.8 229.2 L500.9 249.52 L502 246.4 L502.95 249.52 L503.9 199.7 L504.55 221.5 L505.2 190.7 L505.8 225.4 L506.4 206.2 L507.2 240.16 L508 230.8 L508.85 249.04 L509.7 245.6 L510.45 251.98 L511.2 250.5 L512.1 253.6 Z" fill="#ef8428" fill-opacity="0.85" stroke="none"/><path d="M402.9 253.71 L404.1 254.08 L405.3 254.03 L406.5 254.15 L407.7 254.09 L408.9 254.12 L410.1 254 L411.3 253.67 L412.5 253.71 L413.7 253.67 L414.9 253.74 L416.1 253.64 L417.3 254.1 L418.5 253.81 L419.7 254.18 L420.9 253.86 L422.1 253.61 L423.3 253.87 L424.5 253.99 L425.7 254.01 L426.9 253.92 L428.1 253.56 L429.3 253.52 L430.5 253.68 L431.7 253.51 L432.9 253.67 L434.1 254 L435.3 253.9 L436.5 253.69 L437.7 253.7 L438.9 253.73 L440.1 253.86 L441.3 254.1 L442.5 253.53 L443.7 254.05 L444.9 253.51 L446.1 254.11 L447.3 253.51 L448 253.6 L448.9 240 L449.35 245.68 L449.8 211 L450.45 230.68 L451.1 215 L451.7 242.08 L452.3 234 L453.1 251.02 L453.9 248.9 L454.75 251.02 L455.6 219 L456.4 233.08 L457.2 189.8 L457.8 227.38 L458.4 209.5 L459.2 239.2 L460 229.2 L460.65 246.1 L461.3 240.7 L462.1 250.48 L462.9 248 L463.75 252.58 L464.6 251.5 L465.5 253.6 L466.5 253.94 L467.7 253.63 L468.9 254.19 L470.1 253.89 L471.3 254.03 L472.5 253.71 L473.7 253.74 L474.9 253.87 L476.1 253.69 L477.3 253.46 L478.5 253.96 L479.7 253.35 L480.9 252.8 L482.1 252.26 L483.3 252.09 L484.5 251.63 L485.7 252.43 L486.9 252.37 L488.1 252.18 L489.3 251.62 L490.5 251.93 L491.7 253.7 L492.9 253.6 L494.1 253.78 L495.1 253.6 L496 200 L496.5 221.68 L497 184.1 L497.6 227.38 L498.2 209.5 L499 239.2 L499.8 229.2 L500.9 249.52 L502 246.4 L502.95 249.52 L503.9 199.7 L504.55 221.5 L505.2 190.7 L505.8 225.4 L506.4 206.2 L507.2 240.16 L508 230.8 L508.85 249.04 L509.7 245.6 L510.45 251.98 L511.2 250.5 L512.1 253.6 L513.3 253.59 L514.5 253.64 L515.7 253.92 L516.9 254.11 L518.1 254.01 L519.3 254.2 L520.5 253.74 L521.7 254.14 L522.9 254.07 L524.1 254.02 L525.3 253.85 L526.5 253.5 L527.7 253.37 L528.9 252.99 L530.1 253.13 L531.3 253.14 L532.5 253.43 L533.7 252.73 L534.9 252.22 L536.1 251.08 L537.3 250.71 L538.5 250.01 L539.7 251.1 L540.9 253.01 L542.1 253.91 L543.3 254.01" fill="none" stroke="#cfa03e" stroke-width="1.0" stroke-linejoin="round"/>
<path d="M447.4 326 L448.3 290 L449.15 318.55 L450 272 L450.75 318.99 L451.5 292 L452.25 322.07 L453 306 L453.75 324.05 L454.5 315 L455.25 324.05 L456 282 L456.75 316.79 L457.5 268.3 L458.25 318.55 L459 290 L459.75 321.85 L460.5 305 L461.25 324.27 L462 316 L462.75 325.59 L463.5 322 L464.4 326 Z M494.9 326 L495.8 272 L496.55 314.59 L497.3 257 L498.05 317.45 L498.8 285 L499.55 320.75 L500.3 300 L501.05 323.39 L501.8 312 L502.6 323.39 L503.4 282 L504.15 316.79 L504.9 271.1 L505.65 318.99 L506.4 292 L507.15 322.07 L507.9 306 L508.65 324.27 L509.4 316 L510.2 325.59 L511 322 L511.9 326 Z" fill="#000" fill-opacity="0.12" stroke="none"/><path d="M402.9 326.42 L404.1 325.92 L405.3 326.05 L406.5 325.98 L407.7 326.1 L408.9 326.36 L410.1 325.94 L411.3 326.26 L412.5 326.47 L413.7 326.09 L414.9 326.42 L416.1 326.02 L417.3 326.08 L418.5 326.39 L419.7 326.25 L420.9 326.05 L422.1 326.03 L423.3 326.06 L424.5 326.18 L425.7 325.98 L426.9 325.6 L428.1 325.65 L429.3 325.41 L430.5 325.43 L431.7 325.71 L432.9 325.99 L434.1 325.71 L435.3 326.06 L436.5 326.02 L437.7 326.4 L438.9 326.44 L440.1 326.27 L441.3 326.12 L442.5 326.51 L443.7 326.06 L444.9 326 L446.1 326.13 L447.4 326 L448.3 290 L449.15 318.55 L450 272 L450.75 318.99 L451.5 292 L452.25 322.07 L453 306 L453.75 324.05 L454.5 315 L455.25 324.05 L456 282 L456.75 316.79 L457.5 268.3 L458.25 318.55 L459 290 L459.75 321.85 L460.5 305 L461.25 324.27 L462 316 L462.75 325.59 L463.5 322 L464.4 326 L465.3 326.08 L466.5 326.43 L467.7 326.53 L468.9 326.37 L470.1 326.51 L471.3 326.3 L472.5 326.04 L473.7 326.34 L474.9 325.86 L476.1 326.03 L477.3 326.09 L478.5 325.62 L479.7 325.7 L480.9 325.8 L482.1 325.77 L483.3 325.58 L484.5 325.88 L485.7 326.3 L486.9 325.91 L488.1 326.46 L489.3 326.31 L490.5 326.34 L491.7 325.91 L492.9 326.6 L494.1 326.15 L494.9 326 L495.8 272 L496.55 314.59 L497.3 257 L498.05 317.45 L498.8 285 L499.55 320.75 L500.3 300 L501.05 323.39 L501.8 312 L502.6 323.39 L503.4 282 L504.15 316.79 L504.9 271.1 L505.65 318.99 L506.4 292 L507.15 322.07 L507.9 306 L508.65 324.27 L509.4 316 L510.2 325.59 L511 322 L511.9 326 L513.3 326.24 L514.5 326.49 L515.7 326.15 L516.9 326.03 L518.1 326.06 L519.3 326.55 L520.5 326.04 L521.7 326.36 L522.9 326 L524.1 326.21 L525.3 326.54 L526.5 326.08 L527.7 326.21 L528.9 326.28 L530.1 326.13 L531.3 326.19 L532.5 326.25 L533.7 325.19 L534.9 325.11 L536.1 324.91 L537.3 325.35 L538.5 325.41 L539.7 325.69 L540.9 326.2 L542.1 326.02 L543.3 326.37" fill="none" stroke="#111" stroke-width="1.1" stroke-linejoin="round"/>
<path d="M402.9 254 V330.2 H543.5 V253" fill="none" stroke="#222" stroke-width="1"/>
<path d="M402.9 330.2 v2.6 M405.9 330.2 v1.8 M408.9 330.2 v1.8 M411.9 330.2 v1.8 M414.9 330.2 v1.8 M417.9 330.2 v2.6 M420.9 330.2 v1.8 M423.9 330.2 v1.8 M426.9 330.2 v1.8 M429.9 330.2 v1.8 M432.9 330.2 v2.6 M435.9 330.2 v1.8 M438.9 330.2 v1.8 M441.9 330.2 v1.8 M444.9 330.2 v1.8 M447.9 330.2 v2.6 M450.9 330.2 v1.8 M453.9 330.2 v1.8 M456.9 330.2 v1.8 M459.9 330.2 v1.8 M462.9 330.2 v2.6 M465.9 330.2 v1.8 M468.9 330.2 v1.8 M471.9 330.2 v1.8 M474.9 330.2 v1.8 M477.9 330.2 v2.6 M480.9 330.2 v1.8 M483.9 330.2 v1.8 M486.9 330.2 v1.8 M489.9 330.2 v1.8 M492.9 330.2 v2.6 M495.9 330.2 v1.8 M498.9 330.2 v1.8 M501.9 330.2 v1.8 M504.9 330.2 v1.8 M507.9 330.2 v2.6" stroke="#333" stroke-width="0.7" fill="none"/>
<text x="428.33" y="343.1" font-size="9.14" textLength="20.43" lengthAdjust="spacingAndGlyphs" fill="#2a2a2a">3020</text>
<text x="458.34" y="343.1" font-size="9.14" textLength="20.22" lengthAdjust="spacingAndGlyphs" fill="#2a2a2a">3040</text>
<text x="488.34" y="343.1" font-size="9.14" textLength="20.22" lengthAdjust="spacingAndGlyphs" fill="#2a2a2a">3060</text>
<text x="518.35" y="343.1" font-size="9.14" textLength="19.6" lengthAdjust="spacingAndGlyphs" fill="#2a2a2a">3080</text>
<text x="471.36" y="354.9" font-size="8.8" textLength="15.39" lengthAdjust="spacingAndGlyphs" fill="#2a2a2a" font-style="italic">m/z</text>
<text x="1.92" y="380.8" font-size="16.14" textLength="11.23" lengthAdjust="spacingAndGlyphs" fill="#111">C</text>
<g stroke="#555" stroke-width="1" fill="none">
<path d="M45.5 428.3 H369 M45.5 454.3 H369 M45 482 H369"/>
<path d="M104.1 384 L102.5 482 M236.6 384.2 L235.2 482 M369.5 385.7 L368.3 482.2"/>
</g>
<text x="50.11" y="442.4" font-size="10.6" textLength="23.77" lengthAdjust="spacingAndGlyphs" fill="#333">IgG1</text>
<text x="52.78" y="471.2" font-size="10.6" textLength="34.16" lengthAdjust="spacingAndGlyphs" fill="#333">IgG2/3</text>
<text x="155.99" y="446.5" font-size="10.43" textLength="22.83" lengthAdjust="spacingAndGlyphs" fill="#333">81%</text>
<text x="156.04" y="473.2" font-size="10.5" textLength="22.77" lengthAdjust="spacingAndGlyphs" fill="#333">57%</text>
<text x="289.28" y="446.5" font-size="10.43" textLength="21.92" lengthAdjust="spacingAndGlyphs" fill="#333">19%</text>
<text x="286.72" y="473.2" font-size="10.43" textLength="22.7" lengthAdjust="spacingAndGlyphs" fill="#333">43%</text>
<line x1="116.1" y1="381.7" x2="152.5" y2="382.5" stroke="#555" stroke-width="1"/><line x1="152.5" y1="382.5" x2="168.6" y2="401.4" stroke="#555" stroke-width="1"/><line x1="152.5" y1="417.2" x2="168.6" y2="401.4" stroke="#555" stroke-width="1"/><line x1="168.6" y1="401.4" x2="217" y2="401.4" stroke="#555" stroke-width="1"/><line x1="204" y1="386" x2="204" y2="394.3" stroke="#555" stroke-width="1"/>
<circle cx="116.1" cy="381.7" r="6.6" fill="#f0f018" stroke="#6a6a14" stroke-width="1"/><rect x="126.5" y="375.4" width="13.2" height="13" fill="#0000f0" stroke="#111" stroke-width="0.8"/>
<circle cx="152.5" cy="382.5" r="7" fill="#1d6e16" stroke="#0e380a" stroke-width="0.8"/><circle cx="168.6" cy="401.4" r="7" fill="#1d6e16" stroke="#0e380a" stroke-width="0.8"/><circle cx="152.5" cy="417.2" r="7" fill="#1d6e16" stroke="#0e380a" stroke-width="0.8"/>
<rect x="179.9" y="394.6" width="13" height="12.8" fill="#0000f0" stroke="#111" stroke-width="0.8"/><rect x="198.8" y="394.6" width="12.8" height="12.8" fill="#0000f0" stroke="#111" stroke-width="0.8"/>
<path d="M195.8 373 L211.4 373 L204 386.2 Z" fill="#d81c10" stroke="#7a3a12" stroke-width="2.2" stroke-linejoin="round"/>
<path d="M195.3 376.5 V414" stroke="#000" stroke-width="1.6"/><path d="M192.3 410 L195.3 417.5 L198.3 410 Z" fill="#000"/>
<text x="176.41" y="368.3" font-size="9.66" textLength="38.71" lengthAdjust="spacingAndGlyphs" fill="#222">en do-D</text>
<line x1="251" y1="412.7" x2="288.2" y2="412.7" stroke="#555" stroke-width="1"/><line x1="288.2" y1="412.7" x2="304.5" y2="397.4" stroke="#555" stroke-width="1"/><line x1="288.2" y1="378.3" x2="304.5" y2="397.4" stroke="#555" stroke-width="1"/><line x1="304.5" y1="397.4" x2="353.6" y2="397.4" stroke="#555" stroke-width="1"/><line x1="339.6" y1="382.9" x2="339.6" y2="390.5" stroke="#555" stroke-width="1"/>
<circle cx="251" cy="412.7" r="6.6" fill="#f0f018" stroke="#6a6a14" stroke-width="1"/><rect x="263.3" y="405.9" width="12.8" height="13" fill="#0000f0" stroke="#111" stroke-width="0.8"/>
<circle cx="288.2" cy="412.7" r="7" fill="#1d6e16" stroke="#0e380a" stroke-width="0.8"/><circle cx="288.2" cy="378.3" r="7" fill="#1d6e16" stroke="#0e380a" stroke-width="0.8"/><circle cx="304.5" cy="397.4" r="7" fill="#1d6e16" stroke="#0e380a" stroke-width="0.8"/>
<rect x="316.2" y="390.8" width="12.8" height="13" fill="#0000f0" stroke="#111" stroke-width="0.8"/><rect x="335.4" y="390.8" width="12.4" height="13" fill="#0000f0" stroke="#111" stroke-width="0.8"/>
<path d="M333 369.2 L347.6 369.2 L339.8 383 Z" fill="#d81c10" stroke="#7a3a12" stroke-width="2.2" stroke-linejoin="round"/>
<path d="M320.5 375.8 L346.7 423.1 M347.2 375.8 L320.5 423.1" stroke="#b04a28" stroke-width="2.4"/>
<path d="M332 375.3 V412" stroke="#000" stroke-width="1.6"/><path d="M329 408 L332 415.5 L335 408 Z" fill="#000"/>
<text x="315.01" y="363.7" font-size="9.24" textLength="38.4" lengthAdjust="spacingAndGlyphs" fill="#222">en do-D</text>
</svg></body></html>
